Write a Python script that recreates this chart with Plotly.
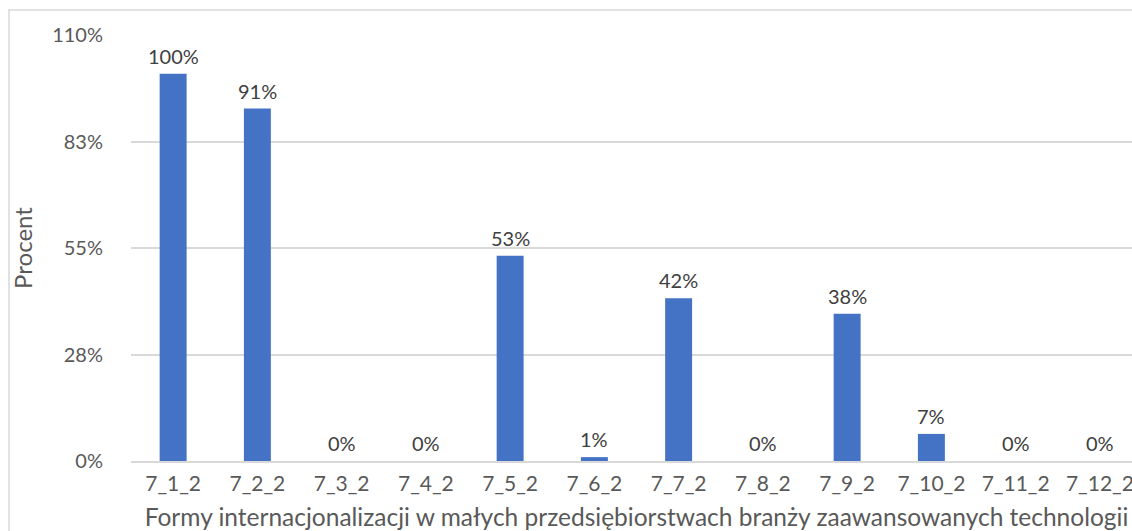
import plotly.graph_objects as go

# Shares of firms using each internationalisation form (percent)
categories = ["7_1_2", "7_2_2", "7_3_2", "7_4_2", "7_5_2", "7_6_2",
              "7_7_2", "7_8_2", "7_9_2", "7_10_2", "7_11_2", "7_12_2"]
values = [100, 91, 0, 0, 53, 1, 42, 0, 38, 7, 0, 0]
y_tickvals = [0, 27.5, 55, 82.5, 110]
y_ticktext = ["0%", "28%", "55%", "83%", "110%"]

FONT = "Lato, 'Open Sans', sans-serif"
W, H = 1160, 552
L, R, T, B = 131, 18, 35, 91
plot_w = W - L - R
plot_h = H - T - B

fig = go.Figure(
    go.Bar(
        x=categories,
        y=values,
        marker=dict(color="#4472C4", line=dict(width=0)),
        width=0.32,
        cliponaxis=False,
    )
)

# Value labels above each bar
for cat, v in zip(categories, values):
    fig.add_annotation(
        x=cat, y=v, xref="x", yref="y",
        text=f"{v}%", showarrow=False,
        yanchor="bottom", yshift=4,
        font=dict(family=FONT, size=20, color="#404040"),
    )

# Chart-area frame
bx0, by0 = 9, 10
fig.add_shape(
    type="rect", xref="paper", yref="paper",
    x0=(bx0 - L) / plot_w, x1=(W - bx0 - L) / plot_w,
    y0=-(H - by0 - (T + plot_h)) / plot_h, y1=1 + (T - by0) / plot_h,
    line=dict(color="#d9d9d9", width=1.5), fillcolor="rgba(0,0,0,0)", layer="below",
)

fig.update_layout(
    width=W, height=H,
    margin=dict(l=L, r=R, t=T, b=B, pad=0),
    paper_bgcolor="white", plot_bgcolor="white",
    showlegend=False,
    bargap=0.68,
    font=dict(family=FONT, size=20, color="#595959"),
    xaxis=dict(
        type="category",
        showgrid=False,
        showline=True, linecolor="#d9d9d9", linewidth=1.5,
        ticks="outside", ticklen=3, tickcolor="rgba(0,0,0,0)",
        tickfont=dict(family=FONT, size=21, color="#595959"),
        title=dict(text="Formy internacjonalizacji w małych przedsiębiorstwach branży zaawansowanych technologii",
                   font=dict(family=FONT, size=24.5, color="#595959"), standoff=15),
    ),
    yaxis=dict(
        range=[0, 110],
        tickvals=y_tickvals, ticktext=y_ticktext,
        showgrid=True, gridcolor="#d9d9d9", gridwidth=1.5,
        zeroline=False,
        ticks="outside", ticklen=23, tickcolor="rgba(0,0,0,0)",
        tickfont=dict(family=FONT, size=20, color="#595959"),
        title=dict(text="Procent", font=dict(family=FONT, size=24, color="#595959"), standoff=12),
    ),
)

fig.write_html(
    "out.html",
    post_script="document.documentElement.style.overflow='hidden';document.body.style.overflow='hidden';document.body.style.margin='0';",
)
